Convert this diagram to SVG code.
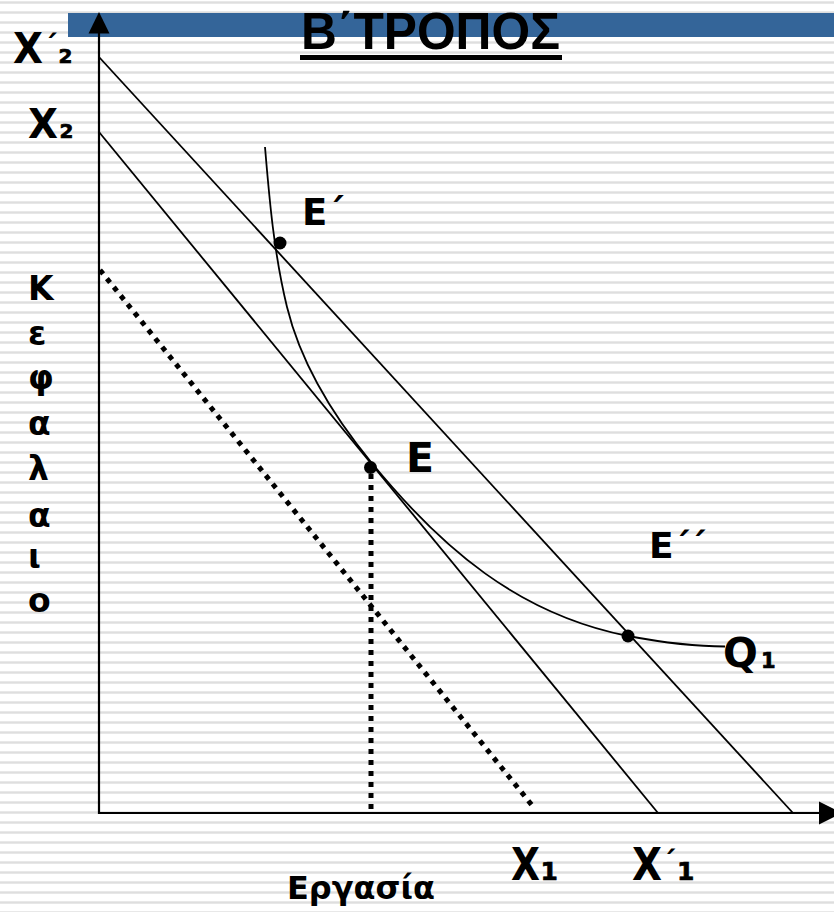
<svg xmlns="http://www.w3.org/2000/svg" width="834" height="912" viewBox="0 0 834 912">
  <style>
    .t { font-family: "DejaVu Sans", "Liberation Sans", sans-serif; font-weight: bold; fill: #000; }
    .sub { stroke: #000; stroke-width: 0.7; }
    .title { font-family: "Liberation Sans", Arial, sans-serif; font-weight: bold; fill: #000; }
    .axis { stroke: #000; stroke-width: 2.2; fill: none; }
    .line { stroke: #000; stroke-width: 1.8; fill: none; }
    .dots { stroke: #000; stroke-width: 5; fill: none; stroke-dasharray: 5 6; }
    .curve { stroke: #000; stroke-width: 1.8; fill: none; }
    .pt { fill: #000; }
  </style>
  <defs>
    <pattern id="stripes" patternUnits="userSpaceOnUse" x="0" y="0" width="834" height="10">
      <rect x="0" y="0" width="834" height="10" fill="#ffffff"/>
      <rect x="0" y="1" width="834" height="3" fill="#ebebeb"/>
      <rect x="0" y="1.8" width="834" height="1.5" fill="#dedede"/>
    </pattern>
  </defs>

  <rect id="background" x="0" y="0" width="834" height="912" fill="url(#stripes)"/>

  <g id="title-bar">
    <rect x="68" y="13" width="766" height="24" fill="#346599"/>
    <text class="title" x="301" y="49" font-size="51" textLength="259" lengthAdjust="spacingAndGlyphs">Β΄ΤΡΟΠΟΣ</text>
    <rect x="300" y="55" width="262" height="5" fill="#000"/>
  </g>

  <g id="axes">
    <line class="axis" x1="99" y1="30" x2="99" y2="814"/>
    <polygon points="99,12 109.5,33.5 88.5,33.5" fill="#000"/>
    <line class="axis" x1="98" y1="813" x2="822" y2="813"/>
    <polygon points="819,801.5 842,813 819,824.5" fill="#000"/>
  </g>

  <g id="connectors">
    <line id="budget-outer" class="line" x1="99" y1="57" x2="793" y2="813"/>
    <line id="budget-inner" class="line" x1="99" y1="132" x2="658" y2="813"/>
    <line id="budget-dotted" class="dots" x1="100" y1="270" x2="535" y2="809"/>
    <line id="drop-E" class="dots" x1="371" y1="474" x2="371" y2="813" stroke-dasharray="5 6.5"/>
  </g>

  <g id="isoquant-Q1">
    <path class="curve" d="M265,147 C269.4,200 274.1,254 287,307 C300.4,362 332,414.6 372,463.3 C442,548.6 518,614 628,636 C660,642 695,646.5 725,646.5"/>
  </g>

  <g id="node-E-prime">
    <circle class="pt" cx="280" cy="243" r="6.5"/>
    <text class="t" x="302" y="225" font-size="37">E΄</text>
  </g>

  <g id="node-E">
    <circle class="pt" cx="370.5" cy="467.5" r="6.5"/>
    <text class="t" x="406" y="472" font-size="41">E</text>
  </g>

  <g id="node-E-double-prime">
    <circle class="pt" cx="628" cy="636" r="6.5"/>
    <text class="t" x="649" y="558" font-size="36">E΄΄</text>
  </g>

  <g id="label-Q1">
    <text class="t" y="667"><tspan x="723" font-size="41">Q</tspan><tspan class="sub" x="761" y="668" font-size="21">1</tspan></text>
  </g>

  <g id="y-labels">
    <text class="t"><tspan x="13" y="63" font-size="42" textLength="30" lengthAdjust="spacingAndGlyphs">X</tspan><tspan x="43.5" y="57" font-size="30">΄</tspan><tspan class="sub" x="58.5" y="63" font-size="20">2</tspan></text>
    <text class="t" y="138"><tspan x="28" font-size="41" textLength="30" lengthAdjust="spacingAndGlyphs">X</tspan><tspan class="sub" x="59.5" font-size="20">2</tspan></text>
    <text class="t" font-size="33">
      <tspan x="28" y="300">Κ</tspan>
      <tspan x="28" y="345">ε</tspan>
      <tspan x="28" y="389">φ</tspan>
      <tspan x="28" y="435">α</tspan>
      <tspan x="28" y="480">λ</tspan>
      <tspan x="28" y="527">α</tspan>
      <tspan x="28" y="568">ι</tspan>
      <tspan x="28" y="612">ο</tspan>
    </text>
  </g>

  <g id="x-labels">
    <text class="t" y="880"><tspan x="511" font-size="44" textLength="29" lengthAdjust="spacingAndGlyphs">X</tspan><tspan class="sub" x="540.5" font-size="25">1</tspan></text>
    <text class="t"><tspan x="632" y="880" font-size="44" textLength="30" lengthAdjust="spacingAndGlyphs">X</tspan><tspan x="662" y="873" font-size="30">΄</tspan><tspan class="sub" x="677" y="880" font-size="25">1</tspan></text>
    <text class="t" x="287" y="899" font-size="31" textLength="148" lengthAdjust="spacingAndGlyphs">Εργασία</text>
  </g>
</svg>
